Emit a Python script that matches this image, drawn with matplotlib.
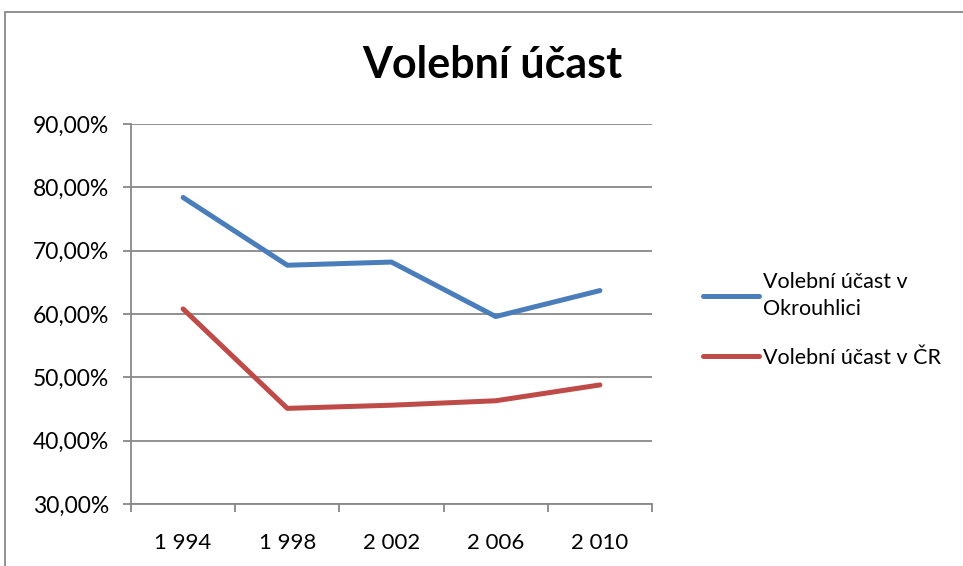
import matplotlib.pyplot as plt
from matplotlib.ticker import FuncFormatter, FixedLocator
from matplotlib.patches import Rectangle

years = ['1 994', '1 998', '2 002', '2 006', '2 010']
okrouhlice = [78.4, 67.7, 68.2, 59.6, 63.7]
cr = [60.8, 45.1, 45.6, 46.3, 48.8]
series_names = ['Volební účast v\nOkrouhlici', 'Volební účast v ČR']

plt.rcParams['font.family'] = ['Lato', 'DejaVu Sans']

W, H = 963, 566
fig = plt.figure(figsize=(W / 100, H / 100), dpi=100)
ax = fig.add_axes([131 / W, 1 - 504 / H, (652 - 131) / W, (504 - 124) / H])

x = range(len(years))
ax.plot(x, okrouhlice, color='#4A7EBB', lw=3.6, solid_capstyle='round',
        solid_joinstyle='round', label=series_names[0])
ax.plot(x, cr, color='#BE4B48', lw=3.6, solid_capstyle='round',
        solid_joinstyle='round', label=series_names[1])

ax.set_xlim(-0.5, len(years) - 0.5)
ax.set_ylim(30, 90)
ax.set_yticks(range(30, 91, 10))
ax.yaxis.set_major_formatter(FuncFormatter(lambda v, p: f'{v:.2f}'.replace('.', ',') + '%'))
ax.set_xticks(list(x))
ax.set_xticklabels(years)
ax.xaxis.set_minor_locator(FixedLocator([i - 0.5 for i in range(len(years) + 1)]))

ax.grid(axis='y', color='#888888', lw=1.3)
ax.set_axisbelow(True)
for s in ['top', 'right']:
    ax.spines[s].set_visible(False)
for s in ['left', 'bottom']:
    ax.spines[s].set_color('#888888')
    ax.spines[s].set_linewidth(1.3)
ax.tick_params(axis='y', length=6, width=1.3, color='#888888', labelsize=16.5, pad=9.5)
ax.tick_params(axis='x', which='major', length=0, labelsize=16, pad=21)
ax.tick_params(axis='x', which='minor', length=6, width=1.3, color='#888888')

fig.text(492 / W, 1 - 65 / H, 'Volební účast', ha='center', va='center',
         fontsize=31, fontweight='bold')

leg = ax.legend(loc='upper left', bbox_to_anchor=(684 / W, 1 - 253 / H),
                bbox_transform=fig.transFigure, frameon=False, fontsize=15.5,
                handlelength=2.6, handletextpad=0.15, labelspacing=1.35)
for t in leg.get_texts():
    t.set_linespacing(1.4)

# chart frame
fig.patches.append(Rectangle((5 / W, -0.1), 1.1, 1 - 12 / H + 0.1, transform=fig.transFigure,
                             fill=False, edgecolor='#888888', lw=1.3))

fig.savefig('out.png', dpi=100)
